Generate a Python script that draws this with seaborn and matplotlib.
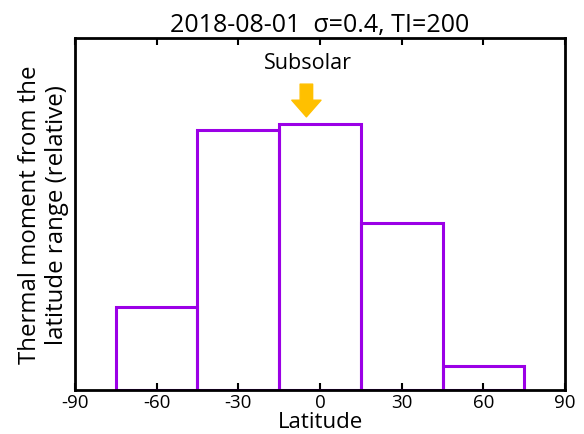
import matplotlib
matplotlib.use("Agg")
import matplotlib.pyplot as plt
import seaborn as sns
import numpy as np

# Data
bin_edges = [-75, -45, -15, 15, 45, 75]
bin_centers = [-60, -30, 0, 30, 60]
thermal_moment = [0.237, 0.739, 0.756, 0.474, 0.067]
xticks = [-90, -60, -30, 0, 30, 60, 90]
subsolar_lat = -5

sns.set_theme(style="white")
plt.rcParams['font.family'] = ['Open Sans', 'DejaVu Sans']
plt.rcParams['text.color'] = 'black'
plt.rcParams['axes.labelcolor'] = 'black'
plt.rcParams['xtick.color'] = 'black'

fig = plt.figure(figsize=(5.84, 4.35), dpi=100)
ax = fig.add_axes([0.1284, 0.1011, 0.8391, 0.8092])

sns.histplot(x=bin_centers, weights=thermal_moment, bins=bin_edges, fill=False,
             element="bars", color="#9B00E6", linewidth=2.2, ax=ax)

ax.set_xlim(-90, 90)
ax.set_ylim(0, 1.0)
ax.set_xticks(xticks)
ax.set_xticklabels([str(t) for t in xticks], fontsize=13.5)
ax.set_yticks([])
ax.tick_params(axis='x', direction='in', length=5, width=1.5, top=True, bottom=True,
               labelbottom=True, labeltop=False, color='black', pad=2)
for s in ax.spines.values():
    s.set_color('black')
    s.set_linewidth(2.0)
    s.set_visible(True)

ax.set_xlabel("Latitude", fontsize=16, labelpad=0)
ax.set_ylabel("Thermal moment from the\nlatitude range (relative)", fontsize=17.3,
              labelpad=4, linespacing=1.2)
ax.set_title("2018-08-01  σ=0.4, TI=200", fontsize=18, pad=5)

ax.annotate("", xy=(subsolar_lat, 0.776), xytext=(subsolar_lat, 0.869),
            arrowprops=dict(facecolor="#FFC000", edgecolor="#FFC000", width=9, headwidth=21,
                            headlength=12, shrink=0))
ax.text(subsolar_lat + 0.5, 0.93, "Subsolar", ha='center', va='center', fontsize=15.5)

fig.savefig("out.png", dpi=100)
